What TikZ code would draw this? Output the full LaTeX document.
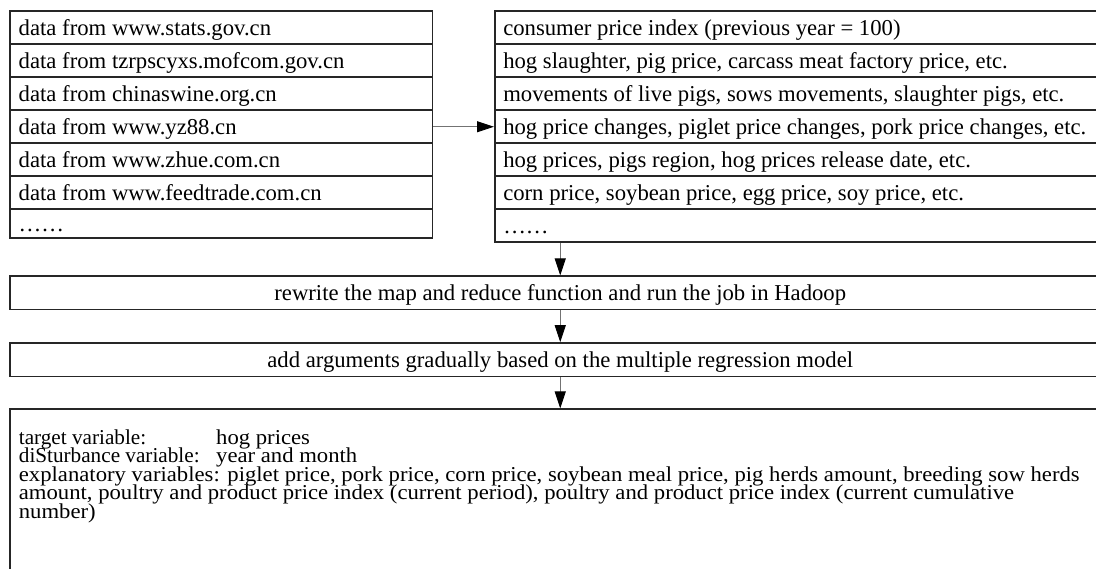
\documentclass[tikz,border=0pt]{standalone}
\usepackage{fontspec}
\setmainfont{Liberation Serif}
\newfontfamily\widefont[FakeStretch=1.07]{Liberation Serif}
\usetikzlibrary{arrows.meta}
\begin{document}
\begin{tikzpicture}[x=1pt,y=-1pt,
  frame/.style={draw=black!85, line width=1.5pt, anchor=north west, inner ysep=0pt,
    text height=15.9pt, text depth=0pt, font=\fontsize{22.7}{26}\selectfont},
  lcell/.style={frame, minimum height=33pt, inner xsep=9pt, text width=404.5pt, align=flush left},
  rcell/.style={frame, minimum height=33pt, inner xsep=8.5pt, text width=630pt, align=flush left},
  wide/.style={frame, minimum height=33.5pt, minimum width=1101pt, align=center},
  varline/.style={inner sep=0pt, anchor=base west, font=\widefont\fontsize{21.2}{24}\selectfont},
  varlabel/.style={varline, font=\fontsize{21.2}{24}\selectfont},
  conn/.style={draw=black!55, line width=0.9pt,
    -{Triangle[length=17pt,width=11pt,color=black]}}
]
\useasboundingbox (0,0) rectangle (1096,569);
\clip (0,0) rectangle (1096,569);

% data sources
\node[lcell] (l1) at (9,10.5)  {data from www.stats.gov.cn};
\node[lcell] (l2) at (9,43.5)  {data from tzrpscyxs.mofcom.gov.cn};
\node[lcell] (l3) at (9,76.5)  {data from chinaswine.org.cn};
\node[lcell] (l4) at (9,109.5) {data from www.yz88.cn};
\node[lcell] (l5) at (9,142.5) {data from www.zhue.com.cn};
\node[lcell] (l6) at (9,175.5) {data from www.feedtrade.com.cn};
\node[lcell, minimum height=29pt] (l7) at (9,208.5) {……};

% collected indicators
\node[rcell] (r1) at (494,10.5)  {consumer price index (previous year = 100)};
\node[rcell] (r2) at (494,43.5)  {hog slaughter, pig price, carcass meat factory price, etc.};
\node[rcell] (r3) at (494,76.5)  {movements of live pigs, sows movements, slaughter pigs, etc.};
\node[rcell] (r4) at (494,109.5) {hog price changes, piglet price changes, pork price changes, etc.};
\node[rcell] (r5) at (494,142.5) {hog prices, pigs region, hog prices release date, etc.};
\node[rcell] (r6) at (494,175.5) {corn price, soybean price, egg price, soy price, etc.};
\node[rcell] (r7) at (494,208.5) {……};

% processing steps
\node[wide] (hadoop) at (9,275.5) {rewrite the map and reduce function and run the job in Hadoop};
\node[wide] (regr) at (9,342.2) {add arguments gradually based on the multiple regression model};
\node[frame, minimum width=1101pt, minimum height=175pt] (res) at (9,408.5) {};

% model variables
\node[varlabel] (v1) at (18.7,444.5) {target variable:};
\node[varline] (v1v) at (216,444.5)  {hog prices};
\node[varlabel] (v2) at (18.7,463)   {diSturbance variable:};
\node[varline] (v2v) at (216,463)    {year and month};
\node[varline] (v3)  at (18.7,481.5) {explanatory variables: piglet price, pork price, corn price, soybean meal price, pig herds amount, breeding sow herds};
\node[varline] (v4)  at (18.7,500)   {amount, poultry and product price index (current period), poultry and product price index (current cumulative};
\node[varline] (v5)  at (18.7,518.5) {number)};

% connectors
\draw[conn] (l4.east) -- (r4.west);
\draw[conn] (hadoop.north |- r7.south) -- (hadoop.north);
\draw[conn] (hadoop.south) -- (regr.north);
\draw[conn] (regr.south) -- (res.north);
\end{tikzpicture}
\end{document}
